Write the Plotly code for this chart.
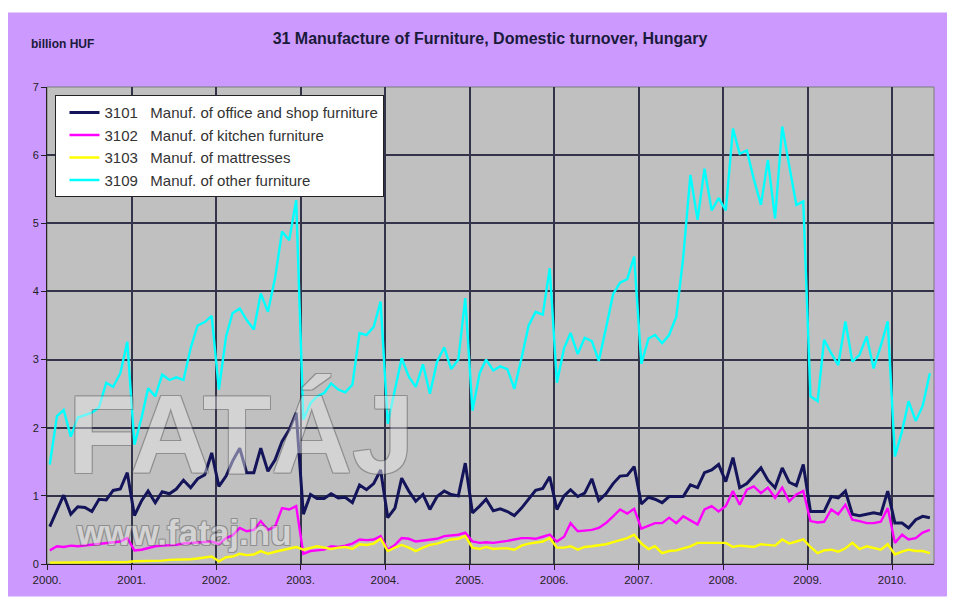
import pandas as pd
import plotly.graph_objects as go

# monthly values, Jan 2000 - Jun 2010 (billion HUF)
office = [0.55, 0.80, 1.01, 0.73, 0.84, 0.83, 0.77, 0.95, 0.94, 1.08, 1.10, 1.34,
          0.71, 0.93, 1.07, 0.90, 1.06, 1.03, 1.10, 1.23, 1.12, 1.25, 1.31, 1.63,
          1.14, 1.29, 1.51, 1.70, 1.34, 1.34, 1.70, 1.36, 1.53, 1.80, 1.97, 2.22,
          0.73, 1.02, 0.96, 0.96, 1.03, 0.97, 0.98, 0.90, 1.16, 1.09, 1.18, 1.38,
          0.68, 0.82, 1.26, 1.07, 0.92, 1.02, 0.80, 0.99, 1.07, 1.02, 1.00, 1.48,
          0.75, 0.85, 0.95, 0.78, 0.81, 0.77, 0.71, 0.82, 0.95, 1.08, 1.11, 1.28,
          0.80, 1.00, 1.09, 0.99, 1.04, 1.25, 0.93, 1.03, 1.18, 1.29, 1.30, 1.43,
          0.88, 0.98, 0.95, 0.90, 0.99, 0.99, 0.99, 1.16, 1.12, 1.34, 1.38, 1.46,
          1.21, 1.56, 1.12, 1.18, 1.29, 1.41, 1.23, 1.12, 1.41, 1.20, 1.15, 1.46,
          0.77, 0.77, 0.77, 0.99, 0.97, 1.07, 0.73, 0.71, 0.73, 0.75, 0.73, 1.07,
          0.60, 0.60, 0.53, 0.65, 0.70, 0.68]
kitchen = [0.20, 0.26, 0.25, 0.27, 0.26, 0.27, 0.28, 0.29, 0.30, 0.32, 0.33, 0.38,
           0.20, 0.21, 0.23, 0.26, 0.27, 0.27, 0.28, 0.30, 0.31, 0.32, 0.32, 0.33,
           0.29, 0.38, 0.42, 0.53, 0.48, 0.50, 0.63, 0.50, 0.55, 0.82, 0.80, 0.85,
           0.15, 0.19, 0.20, 0.21, 0.26, 0.25, 0.27, 0.30, 0.36, 0.35, 0.36, 0.41,
           0.21, 0.28, 0.38, 0.37, 0.33, 0.34, 0.35, 0.37, 0.41, 0.42, 0.43, 0.46,
           0.33, 0.31, 0.32, 0.31, 0.32, 0.34, 0.36, 0.38, 0.38, 0.37, 0.40, 0.43,
           0.33, 0.40, 0.60, 0.48, 0.49, 0.50, 0.53, 0.60, 0.70, 0.80, 0.74, 0.81,
           0.52, 0.56, 0.60, 0.60, 0.68, 0.60, 0.70, 0.64, 0.58, 0.80, 0.85, 0.77,
           0.85, 1.07, 0.87, 1.09, 1.14, 1.04, 1.12, 0.97, 1.12, 0.92, 1.02, 1.07,
           0.63, 0.61, 0.62, 0.80, 0.73, 0.87, 0.65, 0.63, 0.60, 0.60, 0.62, 0.82,
           0.31, 0.43, 0.36, 0.38, 0.46, 0.50]
mattresses = [0.02, 0.02, 0.02, 0.02, 0.02, 0.02, 0.02, 0.02, 0.02, 0.02, 0.03, 0.03,
              0.04, 0.04, 0.05, 0.05, 0.05, 0.06, 0.06, 0.07, 0.07, 0.08, 0.09, 0.11,
              0.04, 0.10, 0.11, 0.15, 0.13, 0.14, 0.19, 0.15, 0.18, 0.20, 0.23, 0.25,
              0.21, 0.24, 0.26, 0.24, 0.22, 0.24, 0.25, 0.22, 0.29, 0.28, 0.30, 0.37,
              0.19, 0.24, 0.28, 0.24, 0.19, 0.24, 0.28, 0.30, 0.33, 0.36, 0.37, 0.41,
              0.24, 0.22, 0.25, 0.22, 0.23, 0.23, 0.21, 0.27, 0.30, 0.32, 0.33, 0.38,
              0.24, 0.24, 0.26, 0.21, 0.25, 0.26, 0.27, 0.29, 0.32, 0.35, 0.38, 0.43,
              0.30, 0.22, 0.26, 0.16, 0.19, 0.20, 0.23, 0.26, 0.31, 0.31, 0.32, 0.32,
              0.31, 0.25, 0.27, 0.26, 0.25, 0.29, 0.28, 0.27, 0.36, 0.30, 0.33, 0.36,
              0.25, 0.16, 0.20, 0.21, 0.18, 0.23, 0.31, 0.22, 0.26, 0.24, 0.21, 0.29,
              0.14, 0.18, 0.21, 0.19, 0.19, 0.16]
other = [1.46, 2.17, 2.26, 1.87, 2.15, 2.18, 2.22, 2.30, 2.66, 2.60, 2.80, 3.26,
         1.75, 2.15, 2.58, 2.46, 2.78, 2.70, 2.74, 2.70, 3.17, 3.50, 3.55, 3.64,
         2.56, 3.34, 3.68, 3.75, 3.58, 3.44, 3.97, 3.70, 4.20, 4.88, 4.75, 5.34,
         2.12, 2.36, 2.46, 2.51, 2.65, 2.56, 2.52, 2.63, 3.39, 3.36, 3.48, 3.85,
         2.06, 2.56, 3.02, 2.75, 2.60, 2.93, 2.50, 2.97, 3.18, 2.86, 3.00, 3.90,
         2.25, 2.80, 3.00, 2.84, 2.90, 2.86, 2.57, 3.02, 3.50, 3.70, 3.66, 4.34,
         2.66, 3.17, 3.39, 3.08, 3.32, 3.27, 2.98, 3.46, 3.96, 4.13, 4.18, 4.51,
         2.94, 3.31, 3.36, 3.24, 3.36, 3.63, 4.50, 5.71, 5.05, 5.80, 5.19, 5.37,
         5.19, 6.39, 6.02, 6.07, 5.65, 5.27, 5.93, 5.07, 6.42, 5.85, 5.27, 5.32,
         2.46, 2.39, 3.29, 3.09, 2.92, 3.56, 2.97, 3.07, 3.34, 2.87, 3.20, 3.56,
         1.58, 1.95, 2.39, 2.10, 2.32, 2.80]

names = ["3101\u00a0\u00a0\u00a0Manuf. of office and shop furniture",
         "3102\u00a0\u00a0\u00a0Manuf. of kitchen furniture",
         "3103\u00a0\u00a0\u00a0Manuf. of mattresses",
         "3109\u00a0\u00a0\u00a0Manuf. of other furniture"]
colors = ["#14145a", "#ff00ff", "#ffff00", "#00ffff"]
widths = [3, 2.4, 2.4, 2.4]
years = list(range(2000, 2011))
year_labels = [f"{y}." for y in years]

months = pd.date_range("2000-01-01", periods=len(office), freq="MS") + pd.Timedelta(days=12)

fig = go.Figure()
for vals, name, col, w in zip([office, kitchen, mattresses, other], names, colors, widths):
    fig.add_trace(go.Scatter(x=months, y=vals, name=name, mode="lines",
                             line=dict(color=col, width=w)))

# the page body adds an 8px margin, so work in coordinates shifted by 8px
FW, FH = 947, 593
L, R, T, B = 38.5, 926, 78.7, 556.5
W, H = R - L, B - T
def px(v):
    return (v - L) / W
def py(v):
    return (B - v) / H

fig.add_shape(type="rect", xref="paper", yref="paper", layer="below",
              x0=px(-2), x1=px(943), y0=py(589), y1=py(4),
              fillcolor="#cc99ff", line_width=0)
fig.add_shape(type="rect", xref="paper", yref="paper", layer="below",
              x0=0, x1=1, y0=0, y1=1, fillcolor="#c0c0c0",
              line=dict(color="#7a7a7a", width=1))

# watermark
outline = "-1px -1px 0 #555, 1px -1px 0 #555, -1px 1px 0 #555, 1px 1px 0 #555"
fig.add_annotation(text="<b>FATÁJ</b>", xref="paper", yref="paper", x=0.219, y=0.272,
                   xanchor="center", yanchor="middle", showarrow=False, opacity=0.45,
                   font=dict(family="Arial Black, Liberation Sans", size=112, color="#ececec",
                             shadow=outline))
fig.add_annotation(text="<b>www.fataj.hu</b>", xref="paper", yref="paper", x=0.154, y=0.066,
                   xanchor="center", yanchor="middle", showarrow=False, opacity=0.45,
                   font=dict(family="Liberation Sans", size=35, color="#ececec",
                             shadow=outline))

fig.add_annotation(text="<b>billion HUF</b>", xref="paper", yref="paper",
                   x=px(20), y=py(36), xanchor="left", yanchor="middle", showarrow=False,
                   font=dict(family="Liberation Sans", size=12, color="#1a1a3a"))

fig.update_layout(
    width=FW, height=FH,
    margin=dict(l=L, r=FW - R, t=T, b=FH - B),
    paper_bgcolor="white", plot_bgcolor="rgba(0,0,0,0)",
    title=dict(text="<b>31 Manufacture of Furniture, Domestic turnover, Hungary</b>",
               x=482 / FW, xanchor="center", y=1 - 30 / FH, yanchor="middle",
               font=dict(family="Liberation Sans", size=16, color="#1a1a3a")),
    font=dict(family="Liberation Sans", size=11, color="#222"),
    legend=dict(x=px(47), y=py(87), xanchor="left", yanchor="top",
                bgcolor="white", bordercolor="#222", borderwidth=1, indentation=8,
                font=dict(family="Liberation Sans", size=15, color="#333")),
    showlegend=True,
)
fig.update_xaxes(type="date", range=["2000-01-01", "2010-07-01"],
                 tickvals=[f"{y}-01-01" for y in years], ticktext=year_labels,
                 showgrid=True, gridcolor="#33334a", gridwidth=1.6,
                 showline=True, linecolor="#222", linewidth=1,
                 ticks="outside", ticklen=5, tickcolor="#222",
                 tickfont=dict(size=11.5, color="#222"), zeroline=False)
fig.update_yaxes(range=[0, 7], dtick=1, showgrid=True, gridcolor="#33334a", gridwidth=1.6,
                 showline=True, linecolor="#222", linewidth=1,
                 ticks="outside", ticklen=5, tickcolor="#222",
                 tickfont=dict(size=11, color="#222"), zeroline=False)

fig.write_html("out.html")
